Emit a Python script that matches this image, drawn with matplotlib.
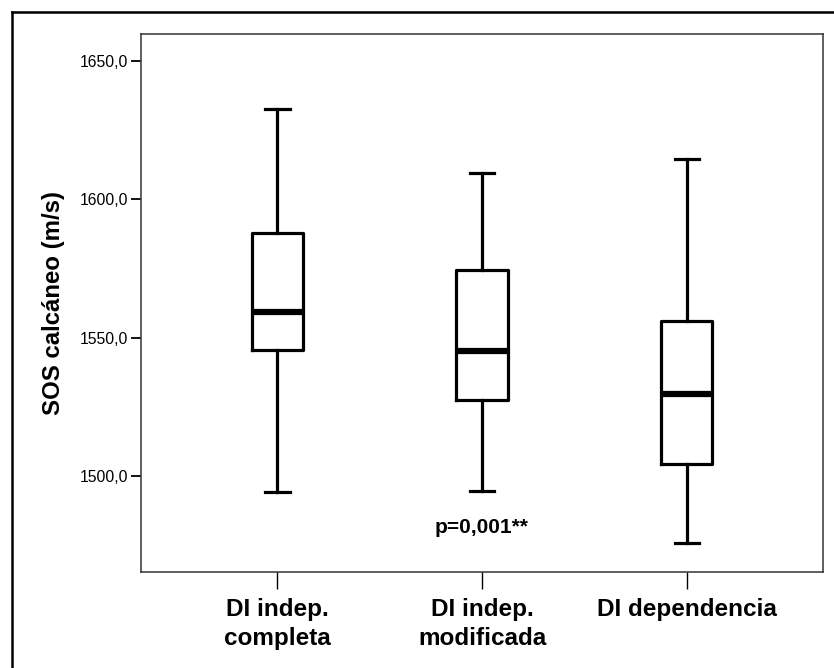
import numpy as np
import matplotlib
matplotlib.use('Agg')
import matplotlib.pyplot as plt
from matplotlib.lines import Line2D

plt.rcParams['font.family'] = ['Liberation Sans', 'DejaVu Sans']

grupos = ['DI indep.\ncompleta', 'DI indep.\nmodificada', 'DI dependencia']
whislo = [1494.3, 1494.5, 1475.8]
q1 = [1545.5, 1527.4, 1504.2]
med = [1559.1, 1545.2, 1529.6]
q3 = [1587.9, 1574.4, 1556.0]
whishi = [1632.5, 1609.4, 1614.6]
yticks = [1500, 1550, 1600, 1650]

stats = []
for i in range(len(grupos)):
    stats.append(dict(whislo=whislo[i], q1=q1[i], med=med[i], q3=q3[i],
                      whishi=whishi[i], fliers=[], label=grupos[i]))

fig = plt.figure(figsize=(8.34, 6.68), dpi=100)
ax = fig.add_axes([0.1691, 0.1437, 0.8177, 0.8059])

lw = 2.3
ax.bxp(stats, positions=[1, 2, 3], widths=0.25, showfliers=False,
       boxprops=dict(color='black', linewidth=lw),
       whiskerprops=dict(color='black', linewidth=lw),
       capprops=dict(color='black', linewidth=lw),
       medianprops=dict(color='black', linewidth=4.5, solid_capstyle='butt'),
       capwidths=0.12)

ax.set_xlim(0.335, 3.665)
ax.set_ylim(1465.2, 1659.9)
ax.set_yticks(yticks)
ax.set_yticklabels([f'{v:.1f}'.replace('.', ',') for v in yticks], fontsize=11.3)
ax.set_xticks([1, 2, 3])
ax.set_xticklabels(grupos, fontsize=17.5, fontweight='bold', linespacing=1.32)
ax.tick_params(axis='y', length=7, width=1.3, pad=2)
ax.tick_params(axis='x', length=12, width=1.0, pad=7)
for s in ax.spines.values():
    s.set_linewidth(1.1)
    s.set_color('#333333')
ax.set_ylabel('SOS calcáneo (m/s)', fontsize=17.3, fontweight='bold', labelpad=11)

ax.text(2, 1481.2, 'p=0,001**', ha='center', va='center', fontsize=15, fontweight='bold')

# Rahmen um die Abbildung (nur links und oben sichtbar)
fig.add_artist(Line2D([12 / 834, 12 / 834], [0, 1 - 12 / 668], transform=fig.transFigure,
                      color='black', linewidth=1.8))
fig.add_artist(Line2D([12 / 834, 1], [1 - 12 / 668, 1 - 12 / 668], transform=fig.transFigure,
                      color='black', linewidth=1.8))

fig.savefig('out.png', dpi=100)
